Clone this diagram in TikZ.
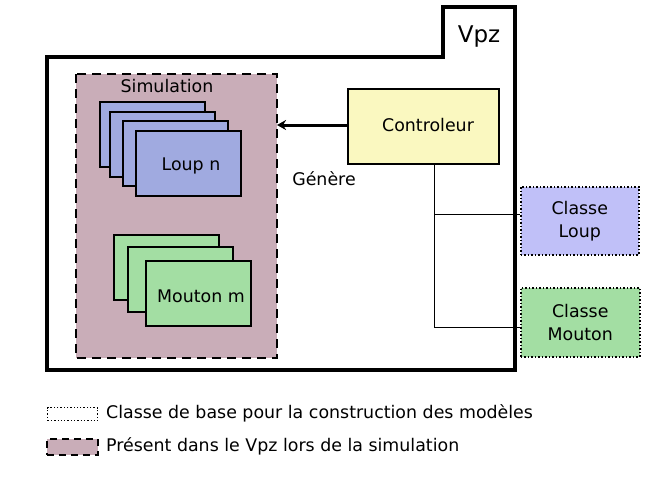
\documentclass[tikz,border=0pt]{standalone}
\usepackage{fontspec}
\setmainfont{DejaVu Sans}
\usetikzlibrary{arrows.meta}
\definecolor{simfill}{HTML}{C9ADB8}
\definecolor{loupfill}{HTML}{A0AAE0}
\definecolor{moutonfill}{HTML}{A3DEA3}
\definecolor{ctrlfill}{HTML}{FAF8C0}
\definecolor{classloup}{HTML}{C0C0F8}
\tikzset{
  lbl/.style={font=\fontsize{17.4}{20}\selectfont, inner sep=0pt},
  loupbox/.style={draw=black, line width=1.8pt, fill=loupfill},
  moutonbox/.style={draw=black, line width=1.8pt, fill=moutonfill},
  classbox/.style={draw=black, line width=1.5pt, dotted, align=center, inner sep=0pt, font=\fontsize{17.4}{23}\selectfont},
  simbox/.style={draw=black, line width=2pt, dash pattern=on 9pt off 6pt, fill=simfill},
  wire/.style={draw=black, line width=0.9pt}
}
\begin{document}
\begin{tikzpicture}[x=1pt,y=-1pt]
\useasboundingbox (0,0) rectangle (668,490);
% Vpz frame
\draw[line width=3.2pt, line join=miter] (47,57) -- (443,57) -- (443,7) -- (515,7) -- (515,370) -- (47,370) -- cycle;
\node[font=\fontsize{23}{26}\selectfont, inner sep=0pt] (vpz) at (479,37) {Vpz};
% Simulation box
\path[simbox] (76,74) rectangle (277,358);
\node[lbl] (simlbl) at (167,86) {Simulation};
\coordinate (simE) at (277,125);
% Loup stack
\path[loupbox] (100,102) rectangle (205,167);
\path[loupbox] (110,112) rectangle (215,177);
\path[loupbox] (123,121) rectangle (228,186);
\path[loupbox] (136,131) rectangle (241,196);
\node[lbl] (loup) at (191,166) {Loup n};
% Mouton stack
\path[moutonbox] (114,235) rectangle (219,300);
\path[moutonbox] (128,247) rectangle (233,312);
\path[moutonbox] (146,261) rectangle (251,326);
\node[lbl] (mouton) at (201,296) {Mouton m};
% Controleur
\node[draw=black, line width=1.8pt, fill=ctrlfill, minimum width=151pt, minimum height=75pt, inner sep=0pt, anchor=north west] (ctrl) at (347,88) {};
\node[lbl] (ctrllbl) at (428,125) {Controleur};
\draw[line width=3pt, -{Stealth[length=9pt,width=10pt]}] (simE -| ctrl.west) -- (simE);
\node[lbl] (gen) at (324,179) {Génère};
% Classes
\node[classbox, fill=classloup, minimum width=118pt, minimum height=68pt, anchor=north west] (cloup) at (520,186) {Classe\\Loup};
\node[classbox, fill=moutonfill, minimum width=119pt, minimum height=69pt, anchor=north west] (cmouton) at (520,287) {Classe\\Mouton};
\coordinate (tap) at (434,163);
\coordinate (j1) at (434,214);
\coordinate (j2) at (434,327);
\draw[wire] (tap) -- (j2) -- (cmouton.west |- j2);
\draw[wire] (j1) -- (cloup.west |- j1);
% Legend
\node[draw=black, line width=1.3pt, dotted, minimum width=50pt, minimum height=13pt, inner sep=0pt, anchor=north west] (leg1) at (47,407) {};
\node[lbl, anchor=west] (leg1t) at (106,413) {Classe de base pour la construction des modèles};
\node[draw=black, line width=1.5pt, dash pattern=on 7pt off 5pt, fill=simfill, minimum width=51pt, minimum height=16pt, inner sep=0pt, anchor=north west] (leg2) at (46,438) {};
\node[lbl, anchor=west] (leg2t) at (106,446) {Présent dans le Vpz lors de la simulation};
\end{tikzpicture}
\end{document}
